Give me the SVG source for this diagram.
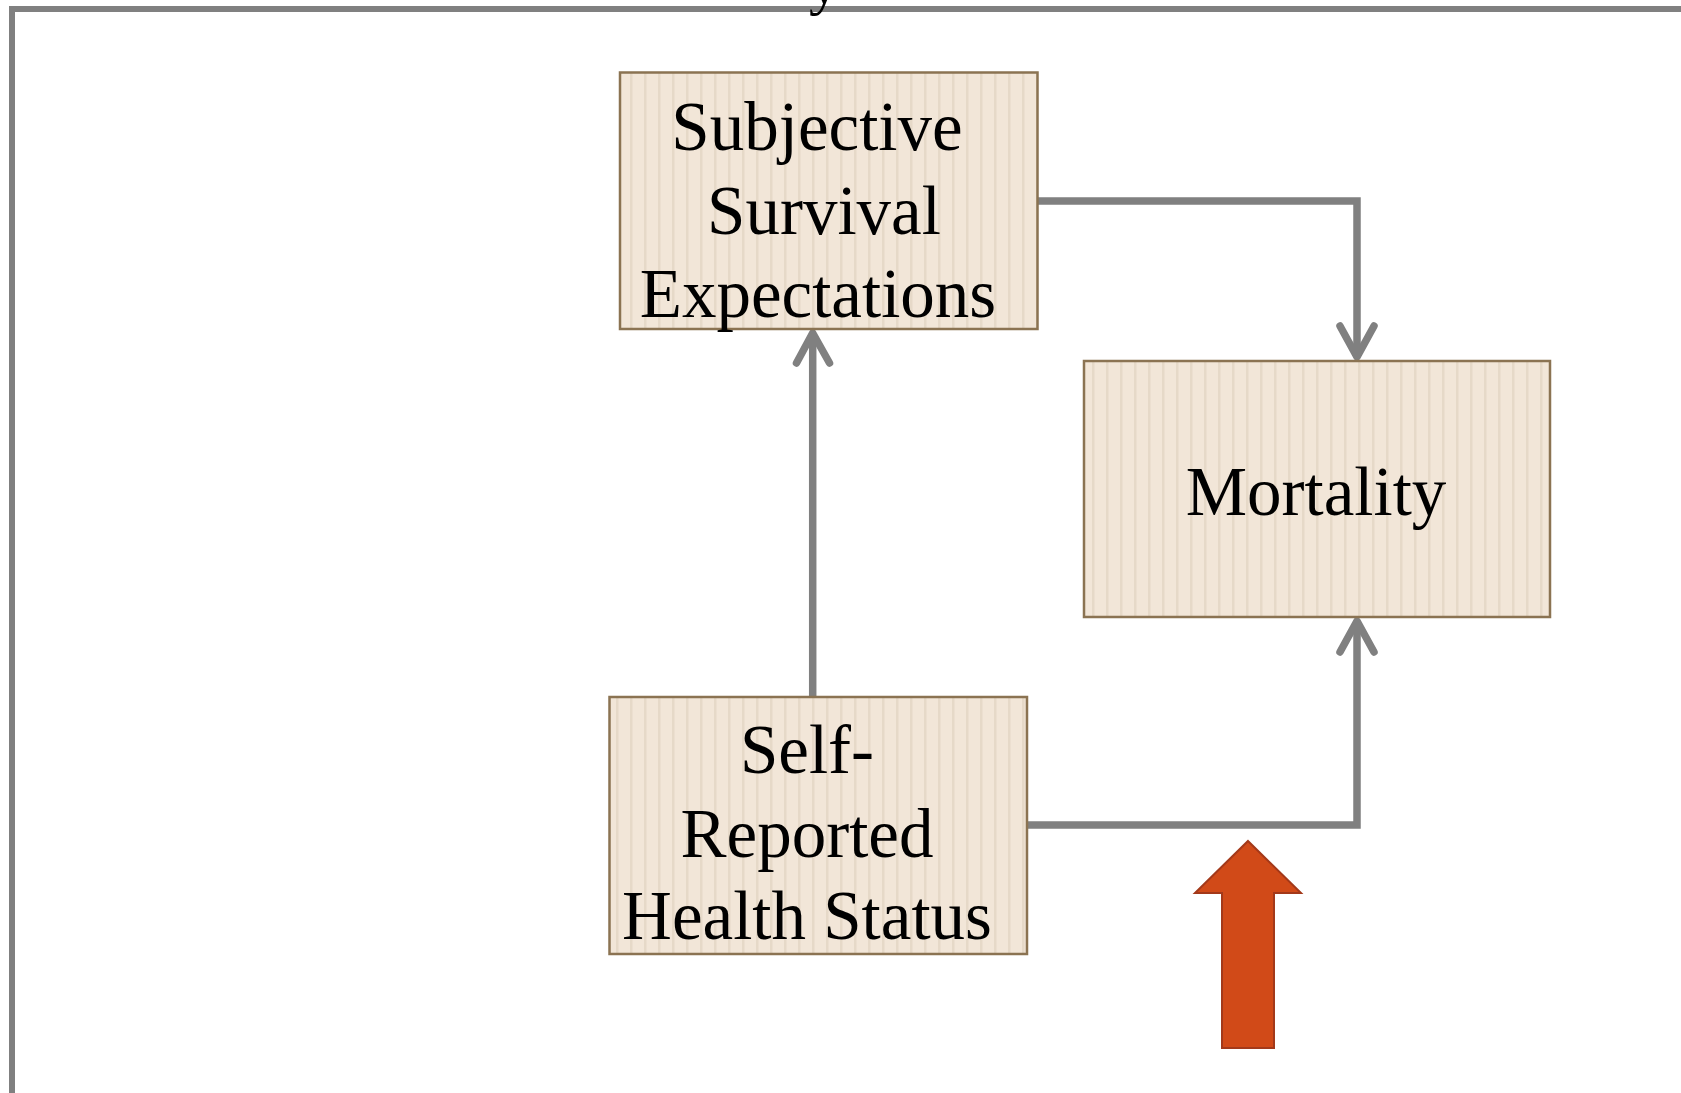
<svg xmlns="http://www.w3.org/2000/svg" width="1681" height="1093" viewBox="0 0 1681 1093">
  <style>
    .box { fill: url(#stripes); stroke: #8B7352; stroke-width: 2.5; }
    .lbl { font-family: "Liberation Serif", "Times New Roman", serif; font-size: 69px; fill: #000; text-anchor: middle; }
    .conn { fill: none; stroke: #808080; stroke-width: 7.5; stroke-linejoin: miter; }
    .head { fill: none; stroke: #808080; stroke-width: 7.5; stroke-linecap: round; stroke-linejoin: round; }
    .frame { fill: none; stroke: #808080; stroke-width: 6; }
  </style>
  <defs>
    <pattern id="stripes" patternUnits="userSpaceOnUse" width="14" height="10">
      <rect width="14" height="10" fill="#F2E6D8"/>
      <rect x="0" width="2.5" height="10" fill="#E6D9C8"/>
    </pattern>
  </defs>
  <rect width="1681" height="1093" fill="#FFFFFF"/>

  <g id="frame">
    <path class="frame" d="M12,1093 L12,9 L1681,9"/>
  </g>
  <text class="lbl" x="824" y="3" style="font-size:60px">y</text>

  <g id="connectors">
    <polyline class="conn" points="1038,201 1357,201 1357,354"/>
    <path class="head" d="M1340,326 L1357,357 L1374,326"/>
    <line class="conn" x1="812.7" y1="697" x2="812.7" y2="336"/>
    <path class="head" d="M796.5,363 L812.7,333 L829.5,363"/>
    <polyline class="conn" points="1027,825 1357,825 1357,624"/>
    <path class="head" d="M1340,652 L1357,621 L1374,652"/>
  </g>

  <g id="node-subjective">
    <rect class="box" x="620" y="72.5" width="417.5" height="256.5"/>
    <text class="lbl" x="817" y="150">Subjective</text>
    <text class="lbl" x="824" y="233.5">Survival</text>
    <text class="lbl" x="818" y="317">Expectations</text>
  </g>

  <g id="node-mortality">
    <rect class="box" x="1084" y="361" width="466" height="256"/>
    <text class="lbl" x="1316" y="515">Mortality</text>
  </g>

  <g id="node-selfreported">
    <rect class="box" x="609.5" y="697" width="417.5" height="257"/>
    <text class="lbl" x="807" y="773">Self-</text>
    <text class="lbl" x="807" y="857">Reported</text>
    <text class="lbl" x="807" y="939">Health Status</text>
  </g>

  <g id="red-arrow">
    <polygon points="1248,841 1301,893 1274,893 1274,1048 1222,1048 1222,893 1195,893" fill="#D14A18" stroke="#A3391A" stroke-width="2"/>
  </g>
</svg>
